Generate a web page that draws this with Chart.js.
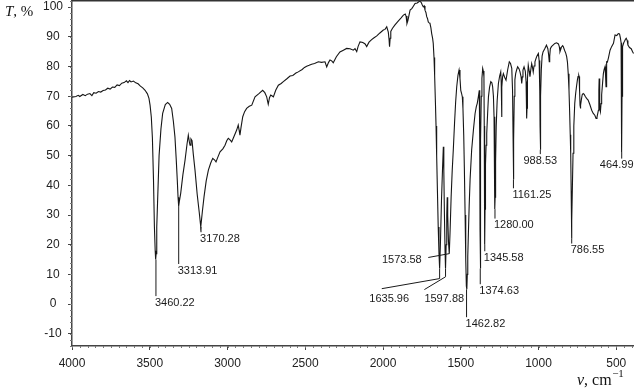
<!DOCTYPE html>
<html><head><meta charset="utf-8">
<script src="https://cdn.jsdelivr.net/npm/chart.js@4.4.1/dist/chart.umd.min.js"></script>
<style>html,body{margin:0;padding:0;background:#fff}#wrap{width:634px;height:391px;position:relative}</style>
</head><body><div id="wrap"><canvas id="c" width="634" height="391"></canvas></div>
<script>
const wavenumbers = [4000,3975,3960,3950,3930,3915,3900,3885,3872,3860,3845,3830,3815,3800,3785,3770,3755,3740,3725,3710,3695,3680,3665,3650,3640,3630,3620,3605,3590,3575,3560,3545,3530,3515,3505,3498,3490,3483,3476,3470,3465,3462,3459,3455,3450,3440,3428,3417,3400,3385,3372,3359,3348,3338,3330,3323,3318,3314,3310,3301,3287,3273,3260,3252,3245,3241,3235,3228,3220,3209,3195,3182,3172,3162,3151,3137,3123,3108,3095,3084,3074,3062,3048,3030,3016,3005,2995,2985,2973,2957,2941,2931,2925,2920,2913,2902,2890,2877,2860,2844,2823,2800,2774,2760,2748,2738,2730,2722,2705,2690,2673,2655,2641,2620,2598,2580,2560,2545,2520,2505,2491,2475,2459,2440,2416,2395,2373,2362,2350,2341,2330,2320,2300,2277,2255,2234,2212,2191,2180,2169,2160,2148,2135,2127,2115,2105,2090,2075,2062,2040,2020,1998,1987,1976,1966,1961,1958,1954,1950,1940,1923,1901,1885,1869,1857,1852,1846,1840,1826,1815,1805,1794,1780,1770,1762,1755,1748,1741,1735,1730,1724,1719,1714,1709,1703,1698,1692,1687,1681,1677,1672,1668,1663,1659,1655,1650,1645,1640,1636,1631,1624,1617,1612,1609,1605,1601,1598,1594,1590,1587,1584,1579,1574,1569,1562,1555,1548,1540,1533,1526,1518,1511,1505,1500,1495,1490,1486,1481,1477,1472,1468,1464,1461,1458,1455,1451,1446,1440,1430,1418,1408,1400,1394,1387,1381,1378,1376,1374.6,1373,1371,1368,1364,1359,1355,1351,1349,1347,1345.6,1344,1341,1337,1333,1327,1322,1315,1307,1300,1295,1290,1286,1283,1281,1280,1279,1276,1272,1266,1258,1250,1243,1240,1237.5,1235,1231,1226,1218,1209,1198,1188,1180,1172,1167,1164,1161.3,1159,1156,1152,1147,1140,1134,1125,1119,1112,1108,1104,1100,1093,1085,1080,1077,1075.5,1074,1071,1066,1060,1055,1050,1044,1039,1034,1029,1023,1017,1012,1006,1001,996,992,990,988.5,987,985,982,977,971,960,949,940,935,931,928,924,917,905,895,884,872,866,862,858,852,845,841,832,825,819,814,809,804,800,796,793,790,788,786.5,785,782,778,773,767,761,756,750,746,741,739,736,733,731,728,724,719,713,706,700,691,681,670,658,648,638,630,624,618,615,612,610,608,605,602,598,594,588,583,578,572,569,566,563,561,557,550,540,530,518,508,497,487,479,473,469,467,465.5,464.5,463,461,458,452,447,441,436,430,425,415,404,395,389];
const transmittance = [69.7,69.9,70.3,69.9,70.6,70.2,70.7,70.9,70.2,71.2,71.0,71.6,71.4,71.9,72.1,72.7,72.4,73.1,73.0,73.8,73.6,74.4,74.6,75.2,74.6,75.3,74.8,75.1,74.5,74.2,73.4,72.8,72.0,70.8,69.3,67.0,63.0,56.0,42.0,26.0,18.0,15.0,17.0,26.0,34.0,50.0,59.0,64.2,67.2,67.9,67.3,65.9,61.5,56.3,49.0,41.8,36.0,33.0,34.5,37.3,43.5,48.5,54.0,56.9,54.5,53.5,55.6,55.0,50.5,45.1,37.0,31.0,26.0,31.0,36.1,41.5,45.1,47.5,49.1,48.6,47.9,49.5,51.3,52.3,53.5,55.0,55.8,55.4,54.6,56.6,58.6,60.3,58.5,56.9,59.5,63.1,64.8,65.9,66.6,67.0,69.8,70.8,72.0,71.2,69.8,67.3,69.5,70.4,69.8,72.0,73.7,74.3,74.9,75.8,76.8,77.0,77.8,78.2,79.0,79.7,80.1,80.4,80.8,81.0,81.6,81.4,81.6,79.9,81.4,82.2,81.9,81.3,83.3,84.9,85.5,86.1,86.0,85.5,86.0,85.0,86.8,88.3,88.2,88.0,87.6,86.7,88.2,89.0,89.5,90.3,91.3,92.3,92.5,93.4,91.6,89.0,86.7,89.5,91.8,92.8,94.0,95.4,96.3,97.3,97.7,97.0,94.5,95.5,99.0,99.5,100.3,101.2,101.4,101.8,102.0,101.6,100.8,100.1,100.4,99.0,98.2,96.8,96.2,95.0,94.7,94.5,93.0,91.1,89.5,87.8,83.0,77.0,68.0,60.0,50.0,38.0,26.0,17.0,12.0,20.0,35.0,46.0,53.0,45.0,30.0,18.0,12.0,20.0,30.0,36.0,30.0,21.0,17.0,24.0,36.0,45.0,52.0,61.0,68.0,73.2,77.0,78.8,76.0,72.0,71.0,69.8,66.0,57.0,46.2,30.0,15.0,6.0,5.0,10.0,16.0,23.8,33.0,42.0,51.9,59.0,64.2,66.5,67.6,69.8,72.0,55.0,25.0,12.0,30.0,55.0,70.0,76.0,79.4,78.5,76.6,60.0,35.0,20.0,32.0,47.0,53.5,57.5,64.5,69.8,73.0,74.9,74.5,73.2,70.0,63.1,50.0,38.0,32.0,36.0,48.0,60.0,68.5,74.3,76.8,78.2,75.0,63.0,73.0,76.5,77.6,76.4,75.4,79.0,81.6,81.0,79.4,72.0,58.0,42.0,55.0,70.0,75.5,77.6,79.0,79.9,79.2,78.2,76.5,74.3,76.5,78.8,79.9,78.5,75.0,65.0,62.5,66.0,76.0,80.5,78.5,76.6,78.8,81.0,79.8,78.2,80.2,81.6,82.6,83.3,84.0,84.4,82.0,72.0,60.0,52.0,58.0,70.0,79.0,83.5,84.9,86.0,87.2,86.0,84.0,81.6,83.5,86.0,86.7,87.3,87.8,88.0,87.6,86.6,85.0,85.6,86.6,87.0,86.7,85.4,84.5,83.3,81.5,77.6,72.0,65.0,57.0,50.8,38.0,28.0,22.0,28.0,40.0,50.8,60.0,67.6,71.0,73.2,75.5,76.6,77.0,76.6,72.0,67.0,65.9,67.0,69.0,70.5,70.9,70.6,70.0,69.3,68.7,67.2,65.3,64.2,63.6,62.5,63.0,64.5,65.3,72.0,76.0,72.0,66.0,64.8,67.5,70.5,74.5,77.6,79.0,80.0,77.0,73.2,77.0,81.6,81.5,83.0,85.5,86.7,87.8,90.6,90.4,91.1,91.0,89.5,88.0,75.0,52.0,51.0,70.0,84.0,86.7,88.0,88.5,89.2,89.5,88.8,87.2,86.4,86.0,85.0,84.4];
const xTickValues = [4000,3500,3000,2500,2000,1500,1000,500];
const yTickValues = [-10,0,10,20,30,40,50,60,70,80,90,100];
const peakWavenumbers = [3460.22,3313.91,3170.28,1635.96,1597.88,1573.58,1462.82,1374.63,1345.58,1280.00,1161.25,988.53,786.55,464.99];
const peakLabels = ['3460.22','3313.91','3170.28','1635.96','1597.88','1573.58','1462.82','1374.63','1345.58','1280.00','1161.25','988.53','786.55','464.99'];
const peakBandT = [15,33,26,12,12,17,5,12,20,32,42,52,22,51];

// annotation layout (data units): where each label sits under its peak
const labelT = [2.7,13.5,24.2,null,null,null,-4.4,6.7,17.8,28.8,39,50.5,20.4,49];
const labelAlign = ['left','left','left',null,null,null,'left','left','left','left','left','center','left','right'];
const specialLeaders = {
  '1635.96': {path:[[1635.96,12],[1635.96,8.6],[2008,5.2]], text:[2088,1.6,'left']},
  '1597.88': {path:[[1597.88,12],[1597.88,9.2],[1734,4.9]], text:[1734,1.6,'left']},
  '1573.58': {path:[[1573.58,17],[1709,15.7]], text:[1751,15.0,'right']}
};

const points = wavenumbers.map((w,i)=>({x:w,y:transmittance[i]}));
const LABEL_FONT = '11px "Liberation Sans", Arial, sans-serif';

const decor = {
  id:'decor',
  afterDraw(chart){
    const ctx = chart.ctx, xs = chart.scales.x, ys = chart.scales.y, a = chart.chartArea;
    ctx.save();
    ctx.strokeStyle = '#333'; ctx.lineWidth = 1.5;
    ctx.beginPath(); ctx.moveTo(a.left, 0.75); ctx.lineTo(a.right, 0.75); ctx.stroke();
    ctx.strokeStyle = '#777'; ctx.lineWidth = 1;
    ctx.beginPath();
    for (let v=-14; v<=102; v+=2){ const y=Math.round(ys.getPixelForValue(v))+0.5; ctx.moveTo(a.left-2,y); ctx.lineTo(a.left,y); }
    for (let v=400; v<=4000; v+=50){ const x=Math.round(xs.getPixelForValue(v))+0.5; ctx.moveTo(x,a.bottom); ctx.lineTo(x,a.bottom+2); }
    ctx.stroke();
    ctx.font = LABEL_FONT; ctx.fillStyle = '#1a1a1a'; ctx.strokeStyle = '#1a1a1a'; ctx.lineWidth = 1;
    peakLabels.forEach((lab,i)=>{
      const sp = specialLeaders[lab];
      if (sp){
        ctx.beginPath();
        sp.path.forEach((p,j)=>{ const x=xs.getPixelForValue(p[0]), y=ys.getPixelForValue(p[1]); if(j===0) ctx.moveTo(x,y); else ctx.lineTo(x,y); });
        ctx.stroke();
        ctx.textAlign = sp.text[2]; ctx.textBaseline = 'middle';
        ctx.fillText(lab, xs.getPixelForValue(sp.text[0]), ys.getPixelForValue(sp.text[1]));
        return;
      }
      const x = xs.getPixelForValue(peakWavenumbers[i]);
      const yb = ys.getPixelForValue(peakBandT[i]);
      const yl = ys.getPixelForValue(labelT[i]);
      ctx.beginPath(); ctx.moveTo(x, yb); ctx.lineTo(x, yl); ctx.stroke();
      ctx.textBaseline = 'top';
      let tx = x - 1; ctx.textAlign = labelAlign[i];
      if (labelAlign[i]==='center') tx = x;
      if (labelAlign[i]==='right') tx = a.right - 0.5;
      ctx.fillText(lab, tx, yl + 1);
    });
    ctx.fillStyle = '#111'; ctx.textBaseline = 'alphabetic'; ctx.textAlign = 'left';
    ctx.font = 'italic 15px "Liberation Serif", "Times New Roman", serif';
    ctx.fillText('T', 5, 16);
    let w = ctx.measureText('T').width;
    ctx.font = '15px "Liberation Serif", "Times New Roman", serif';
    ctx.fillText(', %', 5 + w, 16);
    ctx.font = 'italic 16px "Liberation Serif", "Times New Roman", serif';
    ctx.fillText('ν', 577, 385);
    w = ctx.measureText('ν').width;
    ctx.font = '16px "Liberation Serif", "Times New Roman", serif';
    ctx.fillText(', cm', 577 + w, 385);
    const w2 = ctx.measureText(', cm').width;
    ctx.font = '11px "Liberation Serif", "Times New Roman", serif';
    ctx.fillText('−1', 577 + w + w2 + 0.5, 377);
    ctx.restore();
  }
};

new Chart(document.getElementById('c'), {
  type:'line',
  data:{datasets:[{data:points, borderColor:'#161616', borderWidth:1.1, pointRadius:0, tension:0, fill:false}]},
  options:{
    responsive:false, animation:false, devicePixelRatio:1,
    layout:{padding:0},
    plugins:{legend:{display:false}, tooltip:{enabled:false}},
    scales:{
      x:{type:'linear', reverse:true, min:386, max:4000,
        afterBuildTicks(s){ s.ticks = xTickValues.map(v=>({value:v})); },
        afterFit(s){ s.height = 45; s.paddingLeft=0; s.paddingRight=0; },
        grid:{display:true, drawOnChartArea:false, drawTicks:true, tickLength:4, color:'#444'},
        border:{display:true, color:'#444', width:1.5},
        ticks:{font:{family:'"Liberation Sans", Arial, sans-serif', size:12}, color:'#222', padding:6, maxRotation:0, autoSkip:false, callback:(v)=>String(v)}
      },
      y:{type:'linear', min:-14.1, max:102.4,
        afterBuildTicks(s){ s.ticks = yTickValues.map(v=>({value:v})); },
        afterFit(s){ s.width = 72; s.paddingTop=0; s.paddingBottom=0; },
        grid:{display:true, drawOnChartArea:false, drawTicks:true, tickLength:4, color:'#444'},
        border:{display:true, color:'#444', width:1.5},
        ticks:{font:{family:'"Liberation Sans", Arial, sans-serif', size:12}, color:'#222', padding:5, crossAlign:'center', autoSkip:false, callback:(v)=>String(v)}
      }
    }
  },
  plugins:[decor]
});
</script></body></html>
